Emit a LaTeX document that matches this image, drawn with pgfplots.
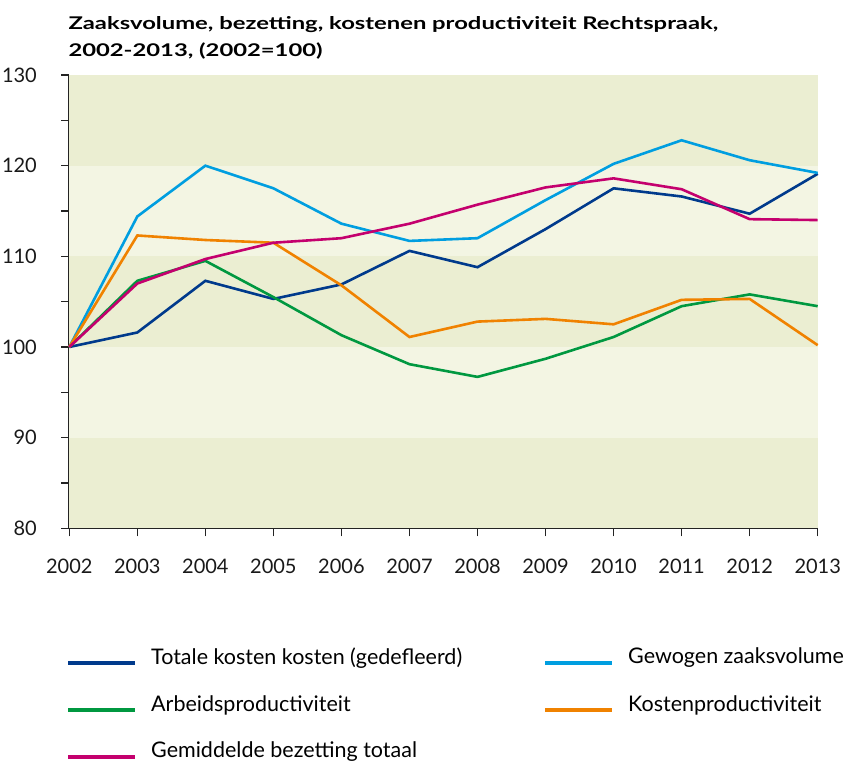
\documentclass[border=0pt]{standalone}
\usepackage{fontspec}
\setmainfont{Lato}
\newfontfamily\titlefont[FakeStretch=1.36]{Lato}
\usepackage{pgfplots}
\pgfplotsset{compat=1.18}
\definecolor{cDark}{RGB}{0,58,140}
\definecolor{cLight}{RGB}{0,158,224}
\definecolor{cGreen}{RGB}{0,152,64}
\definecolor{cOrange}{RGB}{240,130,0}
\definecolor{cMagenta}{RGB}{196,0,110}
\definecolor{bandA}{RGB}{235,238,210}
\definecolor{bandB}{RGB}{243,245,227}
\definecolor{axc}{RGB}{35,35,35}
\begin{document}
\begin{tikzpicture}[x=1pt,y=1pt]
\path[use as bounding box] (0,0) rectangle (846,761);
\node[anchor=base west, inner sep=0, font=\titlefont\bfseries\fontsize{17.5}{21}\selectfont] at (68.3,731.5) {Zaaksvolume, bezetting, kostenen productiviteit Rechtspraak,};
\node[anchor=base west, inner sep=0, font=\titlefont\bfseries\fontsize{17.5}{21}\selectfont] at (68.3,704.3) {2002-2013, (2002=100)};
\begin{axis}[
  at={(69.3pt,232.7pt)}, anchor=south west,
  scale only axis, width=748.4pt, height=453.3pt,
  xmin=2002, xmax=2013, ymin=80, ymax=130,
  axis lines*=left,
  axis line style={-, draw=axc, line width=1.6pt},
  tick align=outside,
  major tick length=8pt, minor tick length=8pt,
  tick style={draw=axc, line width=1.3pt},
  xtick={2002,2003,...,2013},
  xticklabels={2002,2003,2004,2005,2006,2007,2008,2009,2010,2011,2012,2013},
  ytick={80,90,...,130},
  minor ytick={85,95,...,125},
  /pgf/number format/assume math mode=true,
  tick label style={font=\fontsize{20}{24}\selectfont, text=black!90},
  xticklabel style={yshift=-19pt},
  yticklabel style={xshift=-21pt},
  clip=false,
  legend columns=2,
  legend cell align=left,
  legend image code/.code={\draw[#1, line width=4pt] (0pt,-6pt) -- (67pt,-6pt);},
  legend style={draw=none, fill=none, inner sep=0pt, at={(axis description cs:0,0)}, anchor=north west, xshift=-3.3pt, yshift=-117pt,
    font=\fontsize{21.5}{25}\selectfont, row sep=25.5pt,
    /tikz/every odd column/.append style={column sep=12pt},
    /tikz/every even column/.append style={column sep=79pt}},
]
\fill[bandA] (axis cs:2002,80) rectangle (axis cs:2013,90);
\fill[bandB] (axis cs:2002,90) rectangle (axis cs:2013,100);
\fill[bandA] (axis cs:2002,100) rectangle (axis cs:2013,110);
\fill[bandB] (axis cs:2002,110) rectangle (axis cs:2013,120);
\fill[bandA] (axis cs:2002,120) rectangle (axis cs:2013,130);
% Totale kosten
\addplot[cDark, line width=2.6pt] coordinates {(2002,100) (2003,101.6) (2004,107.3) (2005,105.3) (2006,106.9) (2007,110.6) (2008,108.8) (2009,113.0) (2010,117.5) (2011,116.6) (2012,114.7) (2013,119.1)};
\addlegendentry{Totale kosten kosten (gedefleerd)}
% Gewogen zaaksvolume
\addplot[cLight, line width=2.6pt] coordinates {(2002,100) (2003,114.4) (2004,120.0) (2005,117.5) (2006,113.6) (2007,111.7) (2008,112.0) (2009,116.2) (2010,120.2) (2011,122.8) (2012,120.6) (2013,119.2)};
\addlegendentry{Gewogen zaaksvolume}
% Arbeidsproductiviteit
\addplot[cGreen, line width=2.6pt] coordinates {(2002,100) (2003,107.3) (2004,109.5) (2005,105.5) (2006,101.3) (2007,98.1) (2008,96.7) (2009,98.7) (2010,101.1) (2011,104.5) (2012,105.8) (2013,104.5)};
\addlegendentry{Arbeidsproductiviteit}
% Kostenproductiviteit
\addplot[cOrange, line width=2.6pt] coordinates {(2002,100) (2003,112.3) (2004,111.8) (2005,111.5) (2006,106.8) (2007,101.1) (2008,102.8) (2009,103.1) (2010,102.5) (2011,105.2) (2012,105.3) (2013,100.2)};
\addlegendentry{Kostenproductiviteit}
% Gemiddelde bezetting
\addplot[cMagenta, line width=2.6pt] coordinates {(2002,100) (2003,107.0) (2004,109.7) (2005,111.5) (2006,112.0) (2007,113.6) (2008,115.7) (2009,117.6) (2010,118.6) (2011,117.4) (2012,114.1) (2013,114.0)};
\addlegendentry{Gemiddelde bezetting totaal}
\end{axis}
\end{tikzpicture}
\end{document}
